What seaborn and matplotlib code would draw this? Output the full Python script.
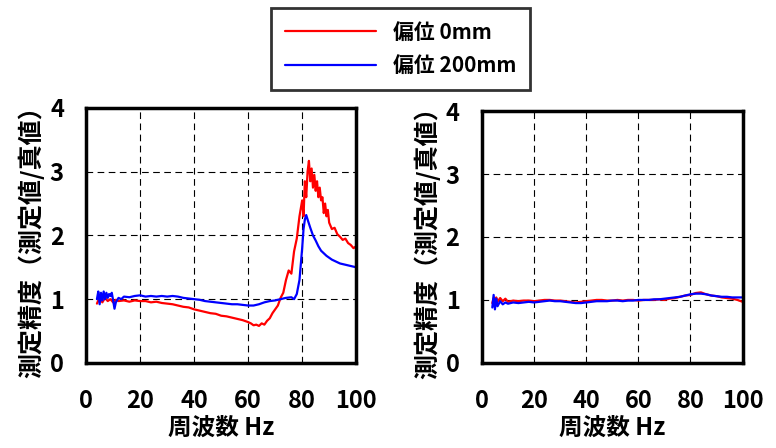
import numpy as np
import pandas as pd
import matplotlib
matplotlib.use('Agg')
import matplotlib.pyplot as plt
import seaborn as sns

# 左図: 偏位 0mm (赤)
freq_l_red = [4, 5, 6, 7, 8, 9, 10, 11, 12, 14, 16, 18, 20, 22, 24, 26, 28, 30, 32, 34,
              36, 38, 40, 42, 44, 46, 48, 50, 52, 54, 56, 58, 60, 61, 62, 63, 64, 65, 66, 67,
              68, 69, 70, 71, 72, 73, 74, 75, 76, 77, 78, 79, 80, 80.5, 81, 81.5, 82, 82.5, 83, 83.5,
              84, 84.5, 85, 85.5, 86, 86.5, 87, 87.5, 88, 88.5, 89, 89.5, 90, 91, 92, 93, 94, 95, 96, 97,
              98, 99, 100]
ratio_l_red = [0.93, 1.03, 0.95, 1.02, 0.97, 1.0, 0.95, 0.99, 0.97, 0.98, 0.96, 0.98, 0.97, 0.97, 0.95, 0.96, 0.94, 0.93, 0.92, 0.9,
               0.88, 0.87, 0.84, 0.82, 0.8, 0.78, 0.77, 0.74, 0.73, 0.71, 0.69, 0.67, 0.64, 0.62, 0.59, 0.6, 0.58, 0.62, 0.6, 0.66,
               0.7, 0.78, 0.84, 0.9, 1.02, 1.1, 1.3, 1.45, 1.4, 1.75, 1.95, 2.3, 2.55, 2.3, 2.85, 2.6, 3.0, 3.17, 2.85, 3.05,
               2.75, 2.95, 2.7, 2.85, 2.6, 2.75, 2.55, 2.6, 2.35, 2.5, 2.3, 2.4, 2.2, 2.1, 2.12, 2.02, 1.98, 1.93, 1.95, 1.88,
               1.85, 1.8, 1.83]

# 左図: 偏位 200mm (青)
freq_l_blue = [4, 4.5, 5, 5.5, 6, 6.5, 7, 7.5, 8, 8.5, 9, 9.5, 10, 10.5, 11, 12, 13, 14, 16, 18,
               20, 22, 24, 26, 28, 30, 32, 34, 36, 38, 40, 42, 44, 46, 48, 50, 52, 54, 56, 58,
               60, 62, 64, 66, 68, 70, 72, 74, 76, 77, 78, 79, 80, 80.5, 81, 81.5, 82, 83, 84, 85,
               86, 87, 88, 89, 90, 91, 92, 93, 94, 95, 96, 97, 98, 99, 100]
ratio_l_blue = [1.0, 1.12, 0.92, 1.1, 0.98, 1.12, 1.0, 1.1, 1.02, 1.08, 1.05, 1.1, 0.98, 0.85, 0.95, 1.02, 1.0, 1.04, 1.03, 1.05,
                1.06, 1.04, 1.05, 1.04, 1.05, 1.04, 1.05, 1.04, 1.02, 1.01, 1.0, 0.99, 0.97, 0.96, 0.95, 0.94, 0.93, 0.92, 0.92, 0.91,
                0.9, 0.9, 0.92, 0.95, 0.97, 0.98, 1.0, 1.02, 1.03, 1.0, 1.08, 1.3, 1.8, 2.1, 2.25, 2.32, 2.25, 2.12, 2.0, 1.92,
                1.83, 1.76, 1.72, 1.68, 1.65, 1.62, 1.6, 1.58, 1.56, 1.55, 1.54, 1.53, 1.52, 1.51, 1.5]

# 右図
freq_r = [4, 4.5, 5, 5.5, 6, 7, 8, 9, 10, 12, 14, 16, 18, 20, 22, 24, 26, 28, 30, 32,
          34, 36, 38, 40, 42, 44, 46, 48, 50, 52, 54, 56, 58, 60, 62, 64, 66, 68, 70, 72,
          74, 76, 78, 80, 82, 84, 86, 88, 90, 92, 94, 96, 98, 100]
ratio_r_red = [0.95, 1.03, 0.92, 1.04, 0.97, 1.03, 0.98, 1.02, 0.97, 0.99, 0.98, 0.99, 0.99, 0.98, 0.99, 1.0, 1.0, 0.99, 0.99, 0.98,
               0.97, 0.96, 0.97, 0.98, 0.99, 1.0, 1.0, 0.99, 0.99, 1.0, 0.99, 1.0, 1.0, 0.99, 1.0, 1.0, 1.0, 1.01, 1.0, 1.02,
               1.03, 1.05, 1.07, 1.08, 1.11, 1.12, 1.09, 1.07, 1.06, 1.04, 1.03, 1.02, 1.0, 0.97]
ratio_r_blue = [0.88, 1.08, 0.85, 1.02, 0.9, 0.98, 0.93, 0.96, 0.94, 0.96, 0.95, 0.96, 0.97, 0.96, 0.97, 0.98, 0.99, 0.98, 0.98, 0.97,
                0.96, 0.95, 0.95, 0.96, 0.97, 0.98, 0.98, 0.98, 0.99, 0.99, 0.98, 0.99, 0.99, 1.0, 1.0, 1.0, 1.01, 1.01, 1.02, 1.03,
                1.04, 1.05, 1.07, 1.09, 1.1, 1.1, 1.09, 1.07, 1.06, 1.05, 1.05, 1.04, 1.04, 1.04]

labels = ['偏位 0mm', '偏位 200mm']
colors = ['#ff0000', '#0000ff']
xticks = [0, 20, 40, 60, 80, 100]
yticks = [0, 1, 2, 3, 4]

sns.set_style('white')
plt.rcParams['font.family'] = ['Noto Sans CJK JP', 'DejaVu Sans']
plt.rcParams['font.weight'] = 'bold'
plt.rcParams['text.color'] = 'black'
plt.rcParams['axes.labelcolor'] = 'black'
plt.rcParams['xtick.color'] = 'black'
plt.rcParams['ytick.color'] = 'black'

fig = plt.figure(figsize=(7.76, 4.48), dpi=100)
ax_l = fig.add_axes([0.111, 0.190, 0.348, 0.569])
ax_r = fig.add_axes([0.621, 0.190, 0.336, 0.562])

series = [
    (ax_l, freq_l_red, ratio_l_red, 0),
    (ax_l, freq_l_blue, ratio_l_blue, 1),
    (ax_r, freq_r, ratio_r_red, 0),
    (ax_r, freq_r, ratio_r_blue, 1),
]
for ax, f, r, i in series:
    sns.lineplot(x=f, y=r, ax=ax, color=colors[i], linewidth=1.6,
                 label=labels[i] if ax is ax_l else None)

for ax in (ax_l, ax_r):
    ax.set_xlim(0, 100)
    ax.set_ylim(0, 4)
    ax.set_xticks(xticks)
    ax.set_yticks(yticks)
    ax.grid(True, color='black', linestyle=(0, (6, 4)), linewidth=0.8)
    ax.tick_params(direction='in', length=5, width=1, labelsize=17, pad=16, colors='black')
    ax.tick_params(axis='x', pad=19)
    for sp in ax.spines.values():
        sp.set_linewidth(2.5)
        sp.set_color('black')
    ax.set_xlabel('周波数 Hz', fontsize=17, fontweight='bold', labelpad=2, color='black')
    ax.set_ylabel('測定精度（測定値/真値）', fontsize=18, fontweight='bold', labelpad=4, color='black')
    for t in ax.get_xticklabels() + ax.get_yticklabels():
        t.set_fontweight('bold')
    if ax.get_legend() is not None:
        ax.get_legend().remove()

handles, leg_labels = ax_l.get_legend_handles_labels()
leg = fig.legend(handles, leg_labels, loc='upper center', bbox_to_anchor=(0.516, 1.005),
                 fontsize=15, handlelength=4.4, handletextpad=0.8, borderpad=0.65,
                 labelspacing=0.6, fancybox=False, frameon=True, edgecolor='black')
leg.get_frame().set_linewidth(2)
for t in leg.get_texts():
    t.set_fontweight('bold')
    t.set_color('black')

fig.savefig('out.png', dpi=100)
